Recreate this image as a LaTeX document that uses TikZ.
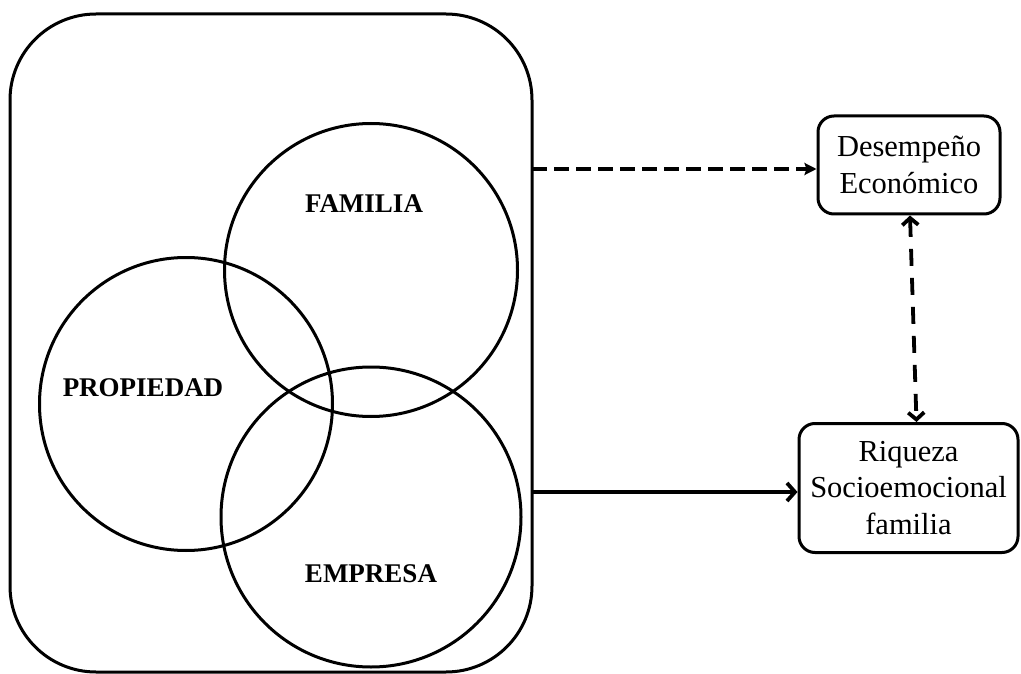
\documentclass[tikz,border=0pt]{standalone}
\usepackage{fontspec}
\setmainfont{Liberation Serif}
\usetikzlibrary{arrows.meta,calc}
\begin{document}
\begin{tikzpicture}[x=1pt,y=-1pt,
  line width=3pt,
  setring/.style={draw,circle,minimum size=#1,inner sep=0pt},
  setlabel/.style={font=\fontsize{27}{30}\selectfont\bfseries},
  outbox/.style={draw,rounded corners=16pt,align=center,inner sep=0pt,
    font=\fontsize{30.5}{36.5}\selectfont},
  link/.style={line width=3.8pt},
  dashlink/.style={link,dash pattern=on 15pt off 7pt,-{Stealth[length=12pt,width=12pt,inset=2pt]}},
  dashboth/.style={link,dash pattern=on 17pt off 12pt,{Straight Barb[length=7pt,width=16pt]}-{Straight Barb[length=7pt,width=16pt]}},
  solidlink/.style={link,-{Straight Barb[length=8pt,width=18pt]}}]
\useasboundingbox (0,0) rectangle (1021,674);

% outer frame holding the three sets
\node[draw,rounded corners=86pt,minimum width=522pt,minimum height=658pt,inner sep=0pt]
  (frame) at (271,343) {};

% the three overlapping sets
\node[setring=293pt] (fam) at (371,270) {};
\node[setring=293pt] (prop) at (186,404) {};
\node[setring=300pt] (emp) at (371,517) {};

\node[setlabel] (famlab) at (364,204) {FAMILIA};
\node[setlabel] (proplab) at (143,388) {PROPIEDAD};
\node[setlabel] (emplab) at (371,574) {EMPRESA};

% outcome boxes
\node[outbox,minimum width=182pt,minimum height=98pt] (desemp) at (909,165)
  {Desempeño\\Económico};
\node[outbox,minimum width=219pt,minimum height=129pt] (riq) at (908.5,488)
  {Riqueza\\Socioemocional\\familia};

% connectors
\coordinate (o1) at (532,169);
\coordinate (o2) at (532,492);
\draw[dashlink] (o1) -- (o1 -| desemp.west);
\draw[solidlink] (o2) -- (o2 -| riq.west);
\draw[dashboth] ([xshift=1pt]desemp.south) -- ([xshift=8pt]riq.north);
\end{tikzpicture}
\end{document}
